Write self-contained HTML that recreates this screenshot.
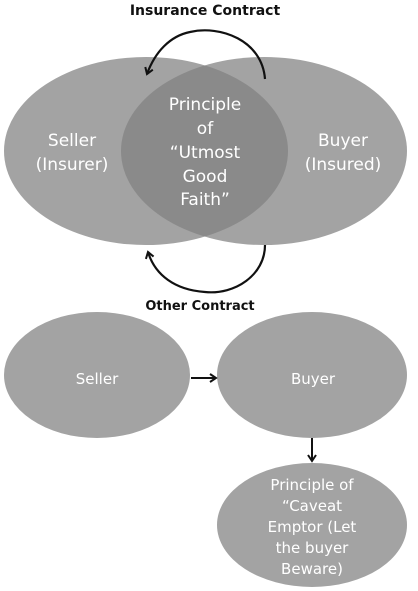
<!DOCTYPE html>
<html><head><style>body{margin:0;background:#fff}svg{display:block}</style></head><body>
<svg width="418" height="591" xmlns="http://www.w3.org/2000/svg" font-family="DejaVu Sans, sans-serif">
<defs>
<clipPath id="c"><ellipse cx="264" cy="151" rx="143" ry="94"/></clipPath>
<marker id="a" markerWidth="10" markerHeight="10" refX="7" refY="5" orient="auto" markerUnits="userSpaceOnUse"><path d="M1,1 L7,5 L1,9" fill="none" stroke="#111" stroke-width="2"/></marker>
</defs>
<text x="205" y="15" text-anchor="middle" font-size="14" font-weight="bold" fill="#111">Insurance Contract</text>
<ellipse cx="146" cy="151" rx="142" ry="94" fill="#a3a3a3"/>
<ellipse cx="264" cy="151" rx="143" ry="94" fill="#a3a3a3"/>
<ellipse cx="146" cy="151" rx="142" ry="94" fill="#8a8a8a" clip-path="url(#c)"/>
<path d="M265,79 C262,40 220,25 190,32 C170,36 155,52 147,74" fill="none" stroke="#111" stroke-width="2.2" marker-end="url(#a)"/>
<path d="M265,245 C265,275 235,295 205,292 C175,290 155,275 148,252" fill="none" stroke="#111" stroke-width="2.2" marker-end="url(#a)"/>
<g fill="#fff" font-size="17" text-anchor="middle">
<text x="72" y="146">Seller</text><text x="72" y="170">(Insurer)</text>
<text x="343" y="146">Buyer</text><text x="343" y="170">(Insured)</text>
<text x="205" y="110">Principle</text><text x="205" y="134">of</text><text x="205" y="158">“Utmost</text><text x="205" y="182">Good</text><text x="205" y="205">Faith”</text>
</g>
<text x="200" y="310" text-anchor="middle" font-size="13" font-weight="bold" fill="#111">Other Contract</text>
<ellipse cx="97" cy="375" rx="93" ry="63" fill="#a3a3a3"/>
<ellipse cx="312" cy="375" rx="95" ry="63" fill="#a3a3a3"/>
<ellipse cx="312" cy="525" rx="95" ry="62" fill="#a3a3a3"/>
<line x1="191" y1="378" x2="216" y2="378" stroke="#111" stroke-width="2" marker-end="url(#a)"/>
<line x1="312" y1="438" x2="312" y2="461" stroke="#111" stroke-width="2" marker-end="url(#a)"/>
<g fill="#fff" font-size="15" text-anchor="middle">
<text x="97" y="384">Seller</text><text x="313" y="384">Buyer</text>
<text x="312" y="490">Principle of</text><text x="312" y="511">“Caveat</text><text x="312" y="532">Emptor (Let</text><text x="312" y="553">the buyer</text><text x="312" y="574">Beware)</text>
</g>
</svg>
</body></html>
